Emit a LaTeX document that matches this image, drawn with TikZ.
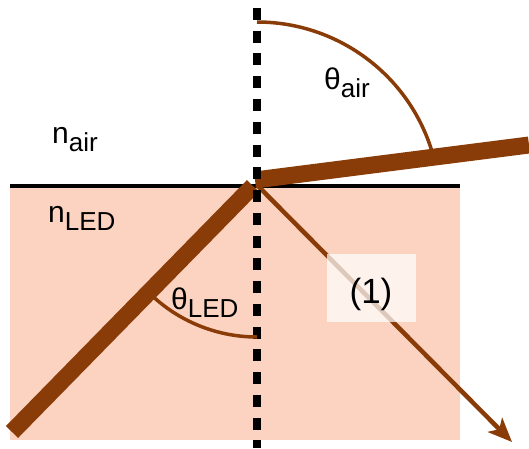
\documentclass[tikz,border=0pt]{standalone}
\usepackage{fontspec}
\setmainfont{Liberation Sans}
\usetikzlibrary{arrows.meta}
\definecolor{peach}{RGB}{252,211,193}
\definecolor{rust}{RGB}{138,60,8}
\newcommand{\mysub}[1]{\raisebox{-8pt}{\fontsize{26}{26}\selectfont #1}}
\begin{document}
\begin{tikzpicture}[x=1pt,y=1pt,
  lbl/.style={inner sep=0pt,anchor=base west,font=\fontsize{30}{32}\selectfont},
  thickray/.style={draw=rust,line width=17pt,line cap=butt},
  anglearc/.style={draw=rust,line width=3.5pt}]
\useasboundingbox (0,0) rectangle (529,448);
% LED medium
\fill[peach] (10,8) rectangle (460,263);
\coordinate (il) at (10,262.5);
\coordinate (ir) at (460,262.5);
\draw[line width=4pt] (il) -- (ir);
% rays
\coordinate (src) at (12,16);
\coordinate (j1) at (253,262);
\coordinate (j2) at (255,268);
\coordinate (out) at (529,303);
\coordinate (j0) at (257,263);
\coordinate (tip) at (512,6);
\draw[rust,line width=4.5pt,-{Stealth[length=24pt,width=20pt,inset=6pt]}] (j0) -- (tip);
\draw[thickray] (src) -- (j1);
\draw[thickray,line width=17pt] (j2) -- (out);
% normal
\coordinate (ntop) at (257,440);
\coordinate (nbot) at (257,0);
\draw[line width=8pt,dash pattern=on 12pt off 10.75pt] (ntop) -- (nbot);
% angle arcs
\draw[anglearc] (257,426) arc[start angle=90,end angle=17,radius=183];
\draw[anglearc] (257,111) arc[start angle=270,end angle=228,radius=154];
% labels
\node[lbl] (nair) at (52,305) {n\mysub{air}};
\node[lbl] (nled) at (48,226) {n\mysub{LED}};
\node[lbl] (tair) at (324,358) {θ\mysub{air}};
\node[lbl] (tled) at (171,139) {θ\mysub{LED}};
\fill[white,opacity=0.72] (327,126) rectangle (416,194);
\node[inner sep=0pt,font=\fontsize{35}{37}\selectfont] (one) at (371,153.5) {(1)};
\end{tikzpicture}
\end{document}
